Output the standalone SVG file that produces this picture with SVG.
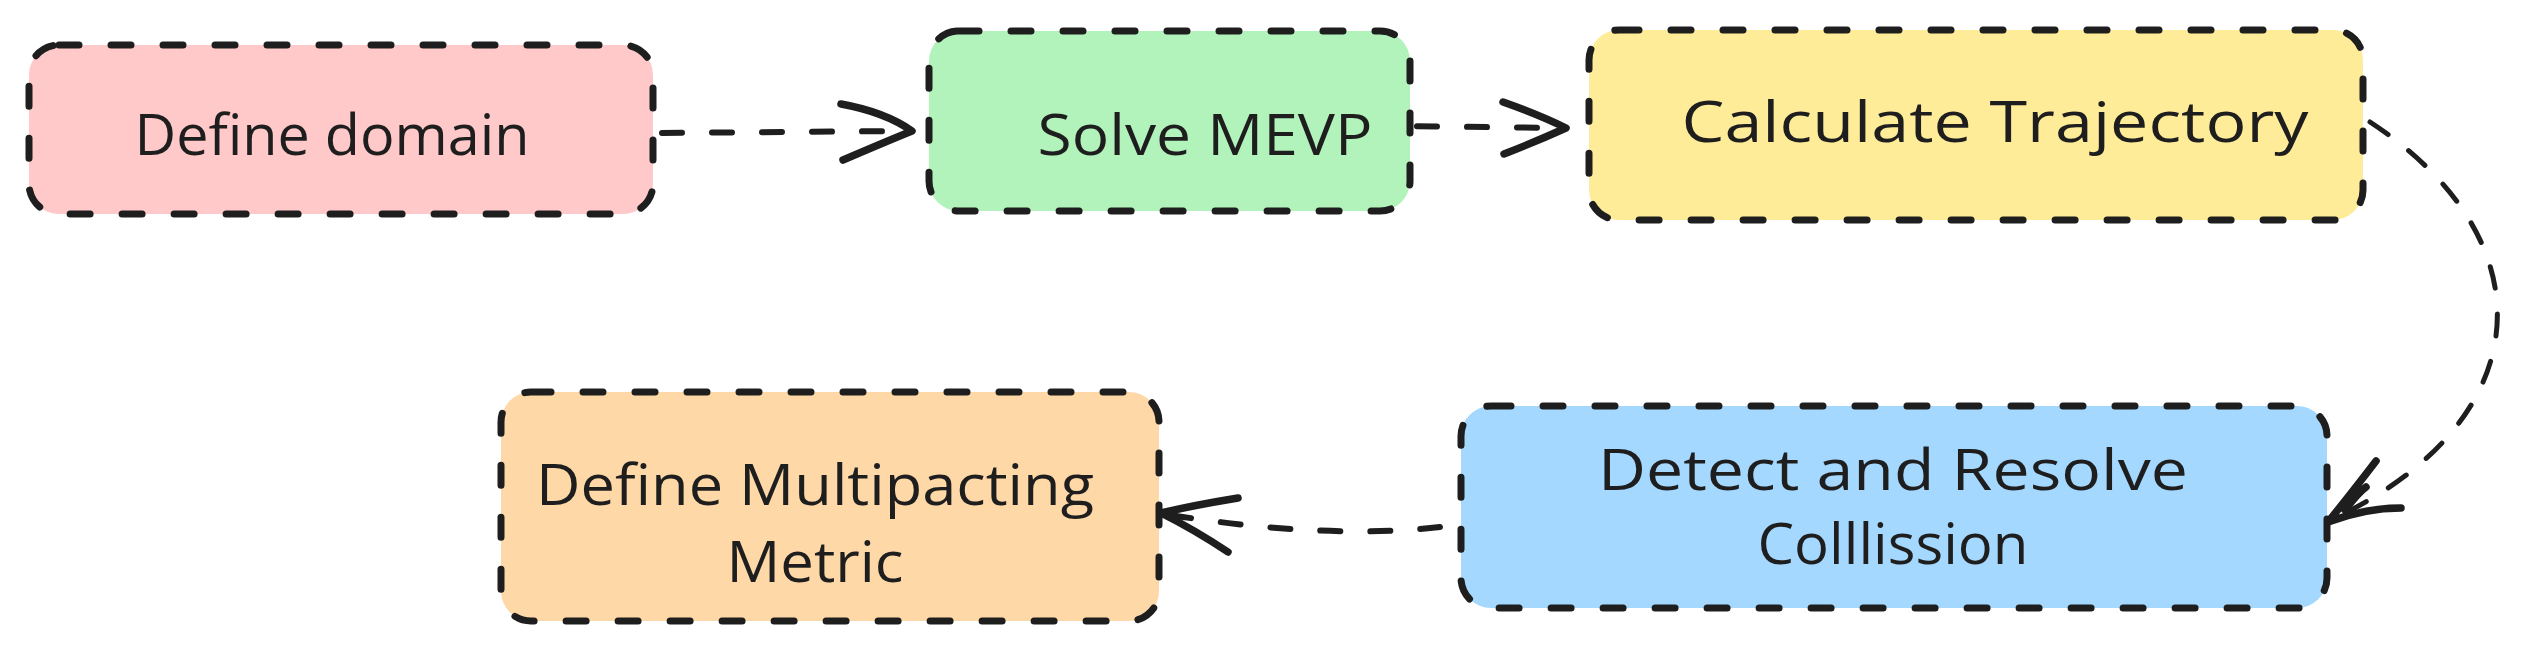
<svg xmlns="http://www.w3.org/2000/svg" width="2527" height="651" viewBox="0 0 2527 651">
<style>
.box{stroke:#1e1e1e;stroke-width:7;stroke-dasharray:20 32;stroke-linecap:round;stroke-linejoin:round}
.lbl{font-family:"Open Sans","Liberation Sans",sans-serif;font-size:57px;fill:#1e1e1e;text-anchor:middle}
.edge{fill:none;stroke:#1e1e1e;stroke-width:6;stroke-dasharray:20 30;stroke-linecap:round}
.edge2{fill:none;stroke:#1e1e1e;stroke-width:5;stroke-dasharray:22 26;stroke-linecap:round}
.head{fill:none;stroke:#1e1e1e;stroke-width:7.5;stroke-linecap:round;stroke-linejoin:round}
</style>
<rect width="2527" height="651" fill="#ffffff"/>
<g id="connectors">
<path class="edge" d="M662,133 L905,131"/>
<path class="head" d="M841,104 Q885,112 912,131 Q885,142 843,160"/>
<path class="edge" d="M1317,125 L1560,128"/>
<path class="head" d="M1503,102 Q1540,115 1566,128 Q1535,142 1504,154"/>
<path class="edge2" d="M2370,122 C2550,240 2540,420 2335,518"/>
<path class="head" d="M2376,461 Q2350,495 2328,522 Q2365,508 2401,508 M2345,510 Q2358,493 2366,487"/>
<path class="edge" d="M1440,527 Q1330,540 1170,515"/>
<path class="head" d="M1238,498 Q1195,505 1161,513 Q1195,530 1228,552"/>
</g>
<g id="node-define-domain">
<rect class="box" x="29" y="45" width="624" height="169" rx="30" fill="#ffc9c9"/>
<text class="lbl" x="332" y="155" textLength="395" lengthAdjust="spacingAndGlyphs">Define domain</text>
</g>
<g id="node-solve-mevp">
<rect class="box" x="929" y="31" width="481" height="180" rx="30" fill="#b2f2bb"/>
<text class="lbl" x="1205" y="155" textLength="335" lengthAdjust="spacingAndGlyphs">Solve MEVP</text>
</g>
<g id="node-calculate-trajectory">
<rect class="box" x="1589" y="30" width="774" height="190" rx="30" fill="#ffec99"/>
<text class="lbl" x="1995" y="142" textLength="627" lengthAdjust="spacingAndGlyphs">Calculate Trajectory</text>
</g>
<g id="node-detect-resolve">
<rect class="box" x="1461" y="406" width="866" height="202" rx="30" fill="#a5d8ff"/>
<text class="lbl" x="1893" y="490" textLength="590" lengthAdjust="spacingAndGlyphs">Detect and Resolve</text>
<text class="lbl" x="1893" y="564" textLength="271" lengthAdjust="spacingAndGlyphs">Colllission</text>
</g>
<g id="node-multipacting-metric">
<rect class="box" x="501" y="392" width="658" height="229" rx="30" fill="#ffd8a8"/>
<text class="lbl" x="815" y="505" textLength="558" lengthAdjust="spacingAndGlyphs">Define Multipacting</text>
<text class="lbl" x="815" y="582" textLength="177" lengthAdjust="spacingAndGlyphs">Metric</text>
</g>
</svg>
